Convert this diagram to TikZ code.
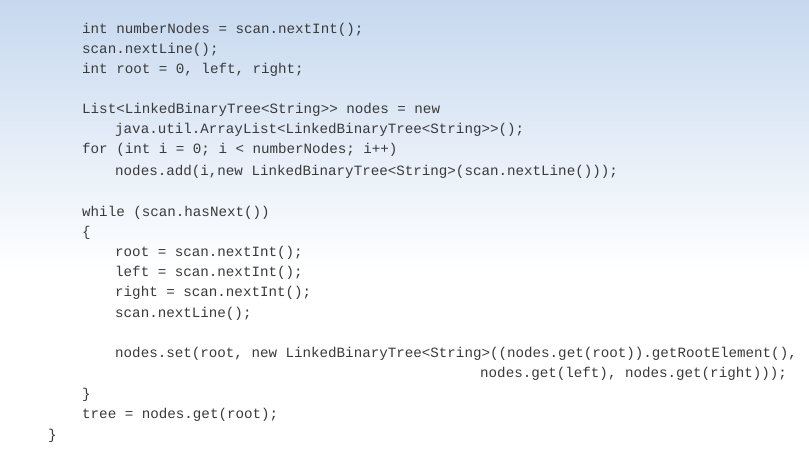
\documentclass[tikz,border=0pt]{standalone}
\usepackage{fontspec}
\setmonofont{Liberation Mono}
\definecolor{topblue}{HTML}{C6D8EF}
\definecolor{codegray}{HTML}{3A3A3A}
\begin{document}
\begin{tikzpicture}[x=1pt,y=-1pt,
  code/.style={anchor=west,inner sep=0pt,text=codegray,font=\fontsize{14.2}{16}\ttfamily}]
\useasboundingbox (0,0) rectangle (809,458);
\fill[white] (0,0) rectangle (809,458);
\shade[top color=topblue,bottom color=white] (0,0) rectangle (809,270);
\node[code] (l1) at (82,30) {int numberNodes = scan.nextInt();};
\node[code] (l2) at (82,50) {scan.nextLine();};
\node[code] (l3) at (82,70) {int root = 0, left, right;};
\node[code] (l4) at (82,110) {List<LinkedBinaryTree<String>{}> nodes = new};
\node[code] (l5) at (115,130) {java.util.ArrayList<LinkedBinaryTree<String>{}>();};
\node[code] (l6) at (82,150) {for (int i = 0; i < numberNodes; i++)};
\node[code] (l7) at (115,172) {nodes.add(i,new LinkedBinaryTree<String>(scan.nextLine()));};
\node[code] (l8) at (82,213) {while (scan.hasNext())};
\node[code] (l9) at (82,233) {\{};
\node[code] (l10) at (115,253) {root = scan.nextInt();};
\node[code] (l11) at (115,273) {left = scan.nextInt();};
\node[code] (l12) at (115,293) {right = scan.nextInt();};
\node[code] (l13) at (115,314) {scan.nextLine();};
\node[code] (l14) at (115,354) {nodes.set(root, new LinkedBinaryTree<String>((nodes.get(root)).getRootElement(),};
\node[code] (l15) at (480,374) {nodes.get(left), nodes.get(right)));};
\node[code] (l16) at (82,395) {\}};
\node[code] (l17) at (82,415) {tree = nodes.get(root);};
\node[code] (l18) at (48,436) {\}};
\end{tikzpicture}
\end{document}
